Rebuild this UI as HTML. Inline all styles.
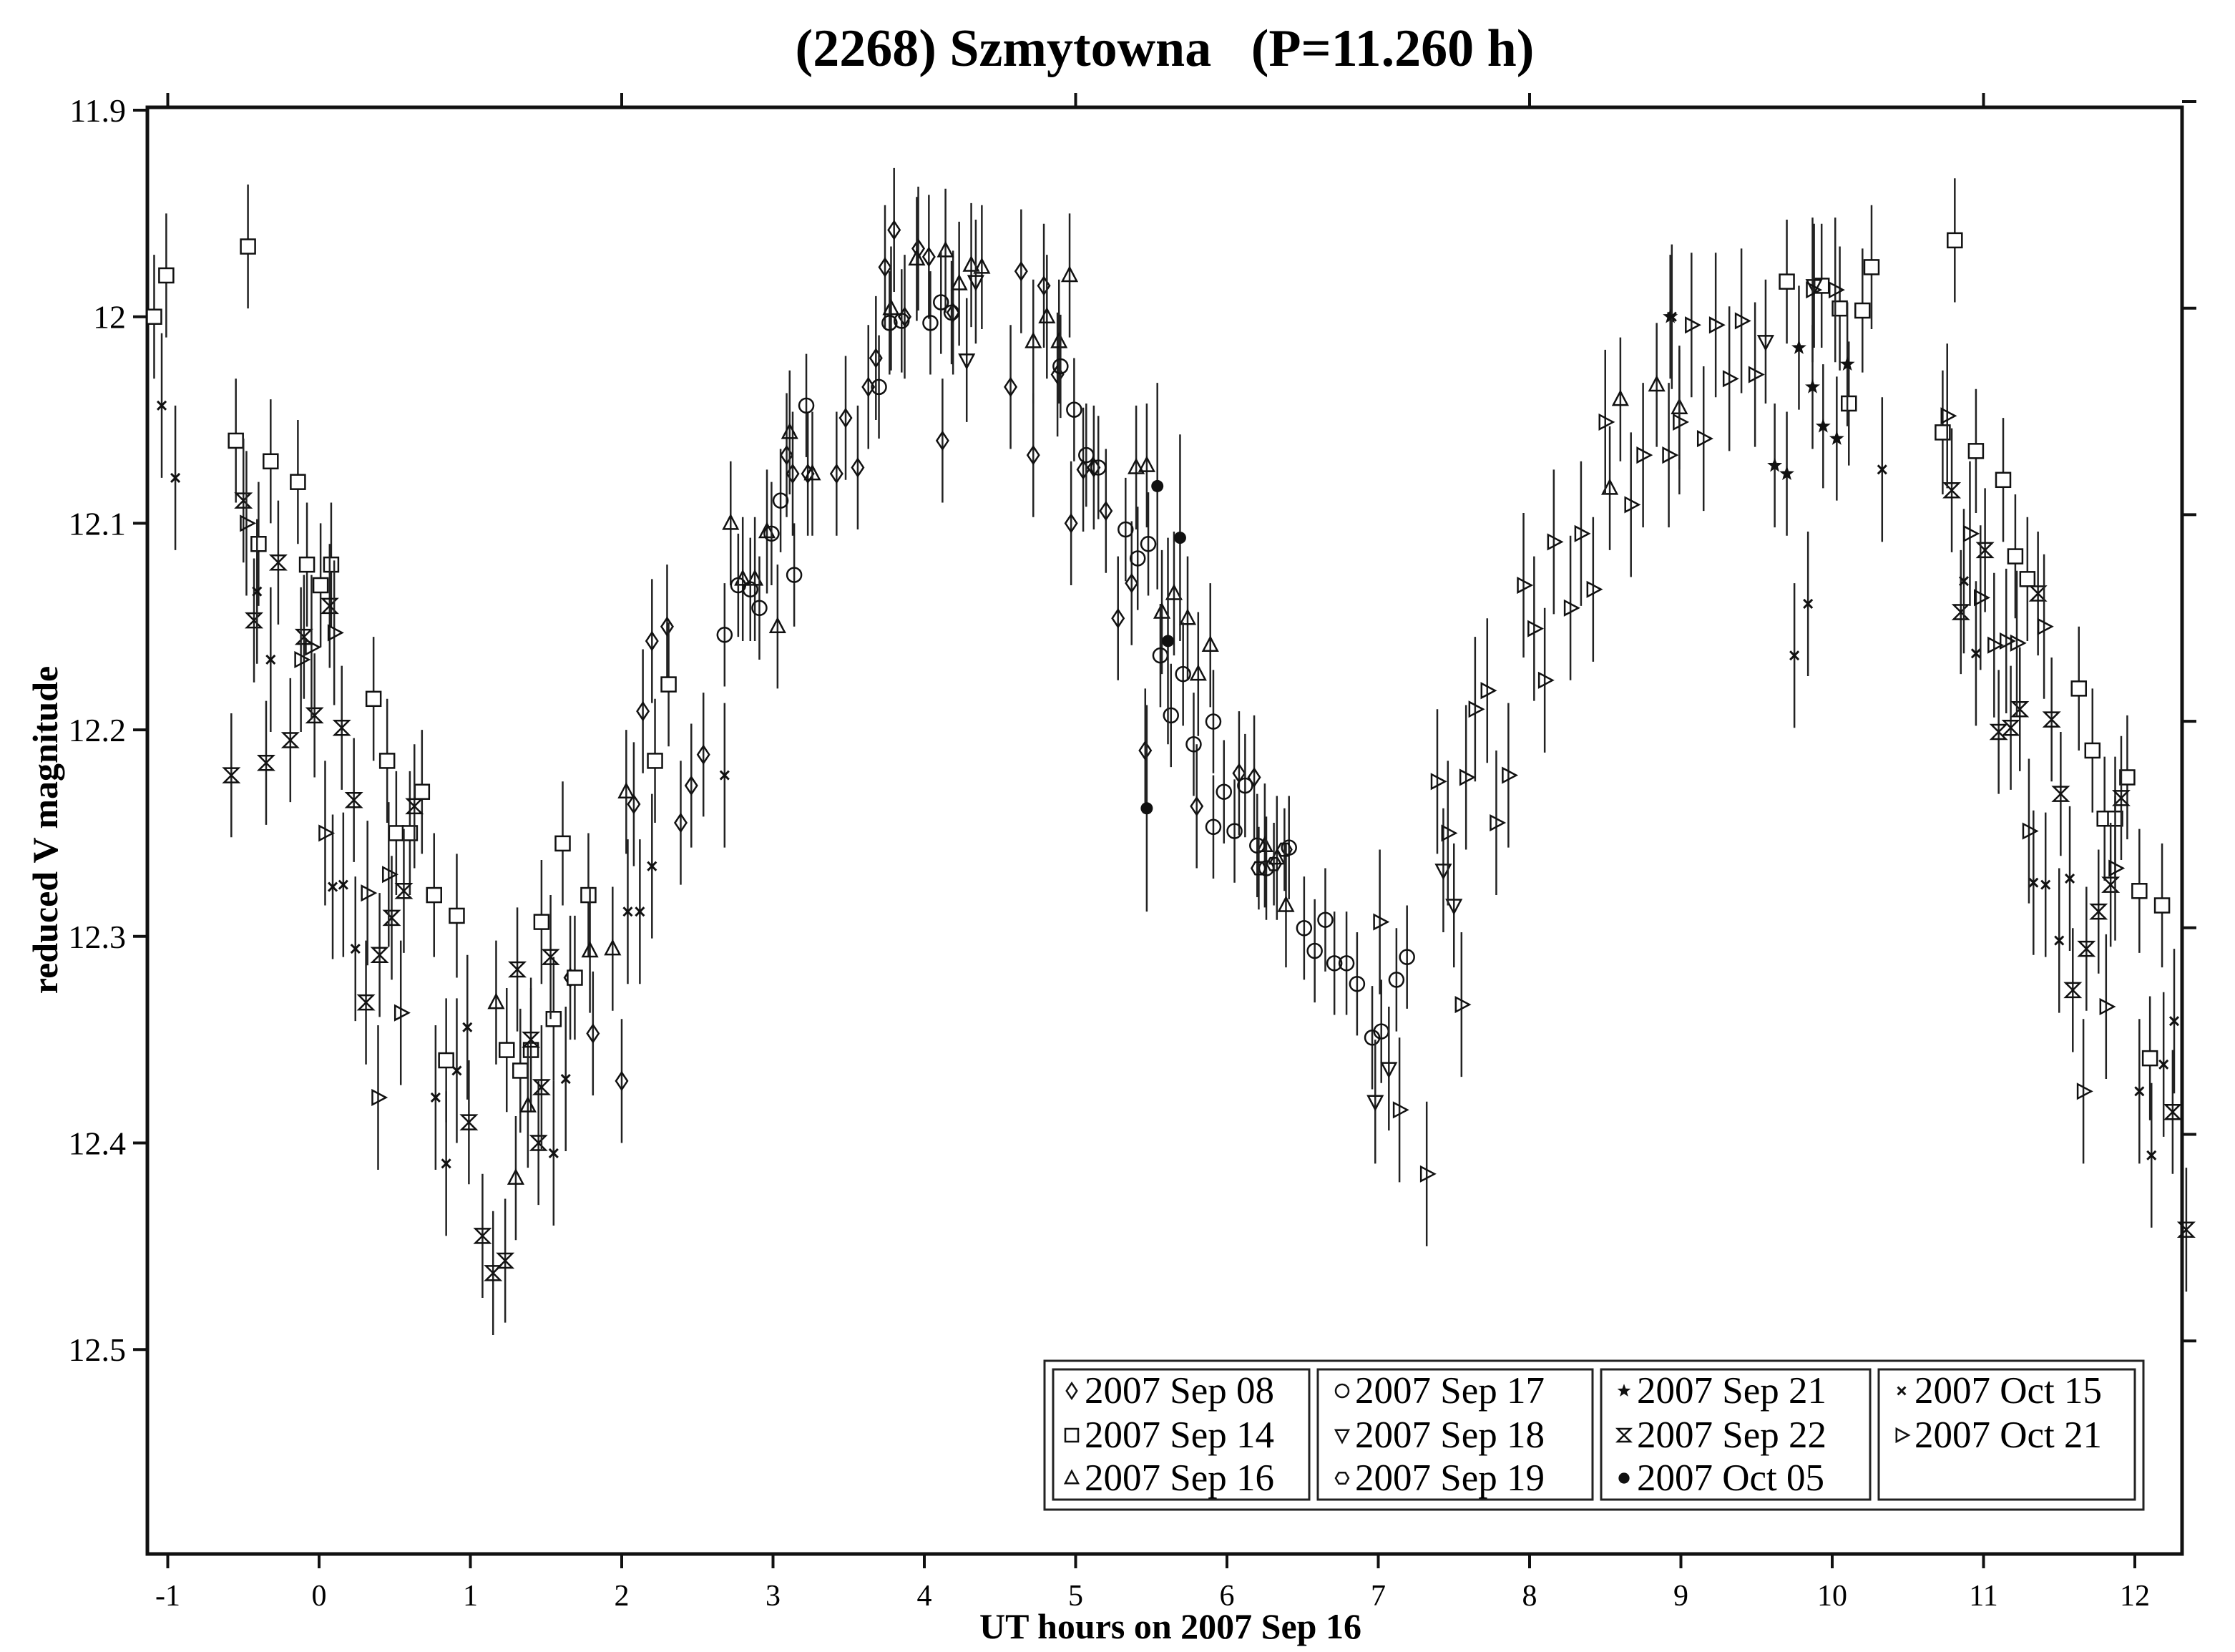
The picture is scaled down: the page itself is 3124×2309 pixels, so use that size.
<!DOCTYPE html>
<html><head><meta charset="utf-8">
<style>
html,body{margin:0;padding:0;background:#fff;}
svg{display:block;font-family:"Liberation Serif",serif;}
</style></head>
<body>
<svg id="chart" width="3124" height="2309" viewBox="0 0 3124 2309" xmlns="http://www.w3.org/2000/svg">
<rect x="0" y="0" width="3124" height="2309" fill="#fff"/>
<text x="1628" y="92" font-size="74" font-weight="bold" text-anchor="middle" xml:space="preserve">(2268) Szmytowna   (P=11.260 h)</text>
<text x="1636" y="2290" font-size="50" font-weight="bold" text-anchor="middle">UT hours on 2007 Sep 16</text>
<text x="0" y="0" font-size="50" font-weight="bold" text-anchor="middle" transform="translate(80,1160) rotate(-90)">reduced V magnitude</text>
<rect x="206" y="150" width="2844" height="2022" fill="none" stroke="#111" stroke-width="5"/>
<g id="axes"></g>
<g id="marks"></g>
<g id="legend">
<rect x="1460" y="1902" width="1536" height="208" fill="#fff" stroke="#222" stroke-width="3"/>
<rect x="1472" y="1914" width="358" height="182" fill="none" stroke="#222" stroke-width="3"/>
<rect x="1842" y="1914" width="384" height="182" fill="none" stroke="#222" stroke-width="3"/>
<rect x="2238" y="1914" width="376" height="182" fill="none" stroke="#222" stroke-width="3"/>
<rect x="2626" y="1914" width="358" height="182" fill="none" stroke="#222" stroke-width="3"/>
</g>
</svg>
<script>
const NS="http://www.w3.org/2000/svg";
// ---- data: [UT hour, magnitude]
const seriesNames=["2007 Sep 08","2007 Sep 14","2007 Sep 16","2007 Sep 17","2007 Sep 18","2007 Sep 19","2007 Sep 21","2007 Sep 22","2007 Oct 05","2007 Oct 15","2007 Oct 21"];
const seriesSymbols=["diamond","square","triangle","circle","tridown","hexagon","star","bowtie","dot","cross","triright"];
const sep08=[[1.66,12.32],[1.81,12.347],[2.0,12.37],[2.08,12.236],[2.14,12.191],[2.2,12.157],[2.3,12.15],[2.39,12.245],[2.46,12.227],[2.54,12.212],[3.09,12.067],[3.13,12.076],[3.23,12.076],[3.42,12.076],[3.48,12.049],[3.56,12.073],[3.63,12.034],[3.68,12.02],[3.74,11.976],[3.8,11.958],[3.87,12.0],[3.96,11.967],[4.03,11.971],[4.12,12.06],[4.19,11.998],[4.57,12.034],[4.64,11.978],[4.72,12.067],[4.79,11.985],[4.88,12.028],[4.97,12.1],[5.05,12.074],[5.12,12.073],[5.2,12.094],[5.28,12.146],[5.37,12.129],[5.46,12.21],[5.8,12.237],[6.08,12.221],[6.18,12.223]];
const sep14=[[-1.09,12.0],[-1.01,11.98],[-0.47,11.966],[-0.55,12.06],[-0.40,12.11],[-0.32,12.07],[-0.14,12.08],[-0.08,12.12],[0.01,12.13],[0.08,12.12],[0.36,12.185],[0.45,12.215],[0.51,12.25],[0.6,12.25],[0.68,12.23],[0.76,12.28],[0.84,12.36],[0.91,12.29],[1.24,12.355],[1.33,12.365],[1.4,12.355],[1.47,12.293],[1.55,12.34],[1.61,12.255],[1.69,12.32],[1.78,12.28],[2.22,12.215],[2.31,12.178],[9.7,11.983],[9.93,11.985],[10.05,11.996],[10.11,12.042],[10.2,11.997],[10.26,11.976],[10.73,12.056],[10.81,11.963],[10.95,12.065],[11.13,12.079],[11.21,12.116],[11.29,12.127],[11.63,12.18],[11.72,12.21],[11.8,12.243],[11.87,12.243],[11.95,12.223],[12.03,12.278],[12.1,12.359],[12.18,12.285]];
const sep16=[[1.17,12.332],[1.3,12.417],[1.38,12.382],[1.79,12.307],[1.94,12.306],[2.03,12.23],[2.72,12.1],[2.8,12.127],[2.88,12.127],[2.96,12.104],[3.03,12.15],[3.11,12.056],[3.26,12.076],[3.78,11.996],[3.95,11.972],[4.14,11.968],[4.23,11.984],[4.31,11.975],[4.38,11.976],[4.72,12.012],[4.81,12.0],[4.89,12.012],[4.96,11.98],[5.4,12.073],[5.47,12.072],[5.57,12.143],[5.65,12.134],[5.74,12.146],[5.81,12.173],[5.89,12.159],[6.25,12.256],[6.33,12.262],[6.39,12.285],[8.53,12.083],[8.6,12.04],[8.84,12.033],[8.99,12.044]];
const sep17=[[2.68,12.154],[2.77,12.13],[2.85,12.132],[2.91,12.141],[2.99,12.105],[3.05,12.089],[3.14,12.125],[3.22,12.043],[3.7,12.034],[3.77,12.003],[3.85,12.002],[4.04,12.003],[4.11,11.993],[4.18,11.998],[4.9,12.024],[4.99,12.045],[5.07,12.067],[5.15,12.073],[5.33,12.103],[5.41,12.117],[5.48,12.11],[5.56,12.164],[5.63,12.193],[5.71,12.173],[5.78,12.207],[5.91,12.196],[5.91,12.247],[5.98,12.23],[6.05,12.249],[6.12,12.227],[6.2,12.256],[6.26,12.267],[6.41,12.257],[6.51,12.296],[6.58,12.307],[6.65,12.292],[6.71,12.313],[6.79,12.313],[6.86,12.323],[6.96,12.349],[7.02,12.346],[7.12,12.321],[7.19,12.31]];
const sep18=[[4.28,12.021],[4.34,11.983],[6.98,12.38],[7.07,12.364],[7.43,12.268],[7.5,12.285],[9.56,12.012],[9.88,11.985]];
const sep19=[[6.21,12.267],[6.31,12.265],[6.38,12.258]];
const sep21=[[8.93,12.0],[9.62,12.072],[9.7,12.076],[9.78,12.015],[9.87,12.034],[9.94,12.053],[10.03,12.059],[10.1,12.023]];
const sep22=[[-0.58,12.222],[-0.5,12.089],[-0.43,12.147],[-0.35,12.216],[-0.27,12.119],[-0.19,12.205],[-0.1,12.155],[-0.03,12.193],[0.07,12.14],[0.15,12.199],[0.23,12.234],[0.31,12.332],[0.4,12.309],[0.48,12.291],[0.56,12.278],[0.63,12.237],[0.99,12.39],[1.08,12.445],[1.15,12.463],[1.23,12.457],[1.31,12.316],[1.4,12.35],[1.45,12.4],[1.47,12.373],[1.53,12.31],[10.79,12.084],[10.85,12.143],[11.01,12.113],[11.1,12.201],[11.18,12.199],[11.24,12.19],[11.36,12.134],[11.45,12.195],[11.51,12.231],[11.59,12.326],[11.68,12.306],[11.76,12.288],[11.84,12.275],[11.91,12.233],[12.25,12.385],[12.34,12.442]];
const oct05=[[5.47,12.238],[5.54,12.082],[5.61,12.157],[5.69,12.107]];
const oct15=[[-1.04,12.043],[-0.95,12.078],[-0.41,12.133],[-0.32,12.166],[0.09,12.276],[0.16,12.275],[0.24,12.306],[0.77,12.378],[0.84,12.41],[0.91,12.365],[0.98,12.344],[1.55,12.405],[1.63,12.369],[2.04,12.288],[2.12,12.288],[2.2,12.266],[2.68,12.222],[8.94,12.0],[9.75,12.164],[9.84,12.139],[10.33,12.074],[10.87,12.128],[10.95,12.163],[11.33,12.274],[11.41,12.275],[11.5,12.302],[11.57,12.272],[12.03,12.375],[12.11,12.406],[12.19,12.362],[12.26,12.341]];
const oct21=[[-0.48,12.1],[-0.12,12.166],[-0.05,12.16],[0.04,12.25],[0.1,12.153],[0.32,12.279],[0.39,12.378],[0.46,12.27],[0.54,12.337],[7.01,12.293],[7.14,12.384],[7.32,12.415],[7.39,12.225],[7.46,12.25],[7.55,12.333],[7.58,12.223],[7.64,12.19],[7.72,12.181],[7.78,12.245],[7.86,12.222],[7.96,12.13],[8.03,12.151],[8.1,12.176],[8.16,12.109],[8.27,12.141],[8.34,12.105],[8.42,12.132],[8.5,12.051],[8.67,12.091],[8.75,12.067],[8.92,12.067],[8.99,12.051],[9.07,12.004],[9.15,12.059],[9.23,12.004],[9.32,12.03],[9.4,12.002],[9.49,12.028],[9.87,11.987],[10.02,11.987],[10.76,12.048],[10.91,12.105],[10.98,12.136],[11.07,12.159],[11.15,12.157],[11.22,12.158],[11.3,12.249],[11.4,12.15],[11.66,12.375],[11.81,12.334],[11.87,12.267]];
const seriesErr=[0.03,0.03,0.03,0.025,0.03,0.02,0.03,0.03,0.05,0.035,0.035];
const xTicks=[-1,0,1,2,3,4,5,6,7,8,9,10,11,12];
const yTicks=[11.9,12,12.1,12.2,12.3,12.4,12.5];
const yTickLabels=["11.9","12","12.1","12.2","12.3","12.4","12.5"];
const allSeries=[sep08,sep14,sep16,sep17,sep18,sep19,sep21,sep22,oct05,oct15,oct21];

// axis functions
function X(t){return 446+211.5*t;}
function Y(m){return 154+(m-11.9)*2887;}

function mk(tag,attrs,parent){const e=document.createElementNS(NS,tag);for(const k in attrs)e.setAttribute(k,attrs[k]);parent.appendChild(e);return e;}
const axes=document.getElementById('axes');
const marks=document.getElementById('marks');

xTicks.forEach(t=>{
  const l=mk('line',{x1:X(t),x2:X(t),y1:2172,y2:2192,stroke:'#111','stroke-width':4},axes);
  
  
  const tx=mk('text',{x:X(t),y:2244,'font-size':42,'text-anchor':'middle'},axes);
  tx.textContent=String(t);
  
  
});
[-1,2,5,8,11].forEach(t=>{
  const l=mk('line',{x1:X(t),x2:X(t),y1:130,y2:150,stroke:'#111','stroke-width':4},axes);
  
  
});
yTicks.forEach((v,i)=>{
  const l=mk('line',{x1:186,x2:206,y1:Y(v),y2:Y(v),stroke:'#111','stroke-width':4},axes);
  
  
  const r=mk('line',{x1:3050,x2:3070,y1:Y(v)-12,y2:Y(v)-12,stroke:'#111','stroke-width':4},axes);
  
  
  const tx=mk('text',{x:176,y:Y(v)+16,'font-size':46,'text-anchor':'end'},axes);
  tx.textContent=yTickLabels[i];
  
  
});

function symbol(type,cx,cy,s,parent){
  const st={fill:'none',stroke:'#111','stroke-width':2.5};
  let e;
  const h=s/2;
  if(type==='diamond') e=mk('polygon',Object.assign({points:`${cx},${cy-h*1.2} ${cx+h*0.8},${cy} ${cx},${cy+h*1.2} ${cx-h*0.8},${cy}`},st),parent);
  else if(type==='square') e=mk('rect',{x:cx-h,y:cy-h,width:s,height:s,fill:'#fff',stroke:'#111','stroke-width':2.5},parent);
  else if(type==='triangle') e=mk('polygon',Object.assign({points:`${cx},${cy-h*1.1} ${cx+h},${cy+h*0.8} ${cx-h},${cy+h*0.8}`},st),parent);
  else if(type==='tridown') e=mk('polygon',Object.assign({points:`${cx},${cy+h*1.1} ${cx+h},${cy-h*0.8} ${cx-h},${cy-h*0.8}`},st),parent);
  else if(type==='triright') e=mk('polygon',Object.assign({points:`${cx+h*1.1},${cy} ${cx-h*0.8},${cy-h} ${cx-h*0.8},${cy+h}`},st),parent);
  else if(type==='circle') e=mk('circle',Object.assign({cx:cx,cy:cy,r:h},st),parent);
  else if(type==='dot') e=mk('circle',{cx:cx,cy:cy,r:h*0.85,fill:'#111'},parent);
  else if(type==='hexagon'){let p=[];for(let k=0;k<6;k++){const a=Math.PI/3*k;p.push((cx+h*Math.cos(a))+','+(cy+h*Math.sin(a)));}e=mk('polygon',Object.assign({points:p.join(' ')},st),parent);}
  else if(type==='bowtie') e=mk('polygon',Object.assign({points:`${cx-h},${cy-h} ${cx+h},${cy-h} ${cx-h},${cy+h} ${cx+h},${cy+h}`},st),parent);
  else if(type==='cross'){e=mk('path',{d:`M${cx-h*0.6},${cy-h*0.6}L${cx+h*0.6},${cy+h*0.6}M${cx+h*0.6},${cy-h*0.6}L${cx-h*0.6},${cy+h*0.6}`,stroke:'#111','stroke-width':3,fill:'none'},parent);}
  else if(type==='star'){let p=[];for(let k=0;k<10;k++){const a=-Math.PI/2+Math.PI/5*k;const r=k%2?h*0.45:h*1.1;p.push((cx+r*Math.cos(a))+','+(cy+r*Math.sin(a)));}e=mk('polygon',{points:p.join(' '),fill:'#111'},parent);}
  return e;
}

allSeries.forEach((arr,si)=>{
  const g=mk('g',{},marks);
  
  
  arr.forEach(p=>{
    const cx=X(p[0]),cy=Y(p[1]);
    const eb=mk('line',{x1:cx,x2:cx,y1:Y(p[1]-seriesErr[si]),y2:Y(p[1]+seriesErr[si]),stroke:'#222','stroke-width':2.5},g);
    
    
    const m=symbol(seriesSymbols[si],cx,cy,20,g);
    
    
  });
});

// legend entries
const leg=document.getElementById('legend');
const colX=[1486,1864,2258,2646];
const rowY=[1944,2006,2066];
seriesNames.forEach((n,i)=>{
  const c=Math.floor(i/3), r=i%3;
  const g=mk('g',{},leg);
  
  
  symbol(seriesSymbols[i],colX[c]+12,rowY[r],18,g);
  const t=mk('text',{x:colX[c]+30,y:rowY[r]+17,'font-size':53},g);
  t.textContent=n;
});
</script>
</body></html>
